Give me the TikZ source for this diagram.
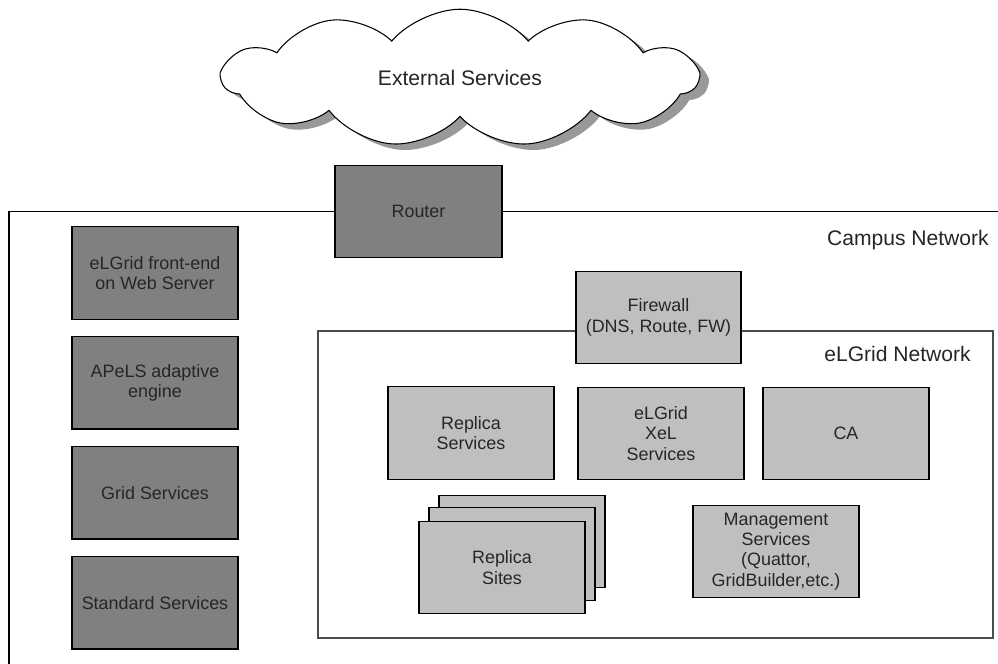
\documentclass[tikz,border=0pt]{standalone}
\usepackage{fontspec}
\setsansfont{Liberation Sans}
\usetikzlibrary{positioning,shapes.symbols,shadows}

\begin{document}
\begin{tikzpicture}[
    node distance=0.32cm,
    box/.style={draw, rectangle, align=center, line width=0.8pt, minimum width=3.32cm, minimum height=1.85cm, inner sep=1pt, text=black!85, font=\sffamily\fontsize{10.2}{11.6}\selectfont},
    darkbox/.style={box, fill=gray},
    lightbox/.style={box, fill=gray!50},
    netlabel/.style={anchor=east, font=\sffamily\fontsize{12}{14}\selectfont, text=black!85}]
    \useasboundingbox (0,0) rectangle (19.96,13.28);

    % Networks
    \draw [line width=1pt] (0.18,-0.1) -- (0.18,9.05) -- (20.1,9.05);
    \draw [line width=0.6pt, black!70] (6.36,0.52) rectangle (19.86,6.66);
    \node (campuslbl) [netlabel] at (19.9,8.48) {Campus Network};
    \node (elgridlbl) [netlabel] at (19.54,6.2) {eLGrid Network};

    % Nodes
    \node (cloud) [cloud, cloud puffs=11, cloud puff arc=100, aspect=3.4, draw, fill=white, line width=0.6pt, minimum width=9.5cm, minimum height=2.75cm, drop shadow={shadow xshift=0.18cm, shadow yshift=-0.12cm, fill=black!50, opacity=0.8}, font=\sffamily\fontsize{12}{14}\selectfont, text=black!85] at (9.2,11.72) {External Services};
    \node (router) [darkbox, minimum width=3.34cm] at (8.37,9.05) {Router};

    \node (frontend) [darkbox] at (3.10,7.82) {eLGrid front-end\\on Web Server};
    \node (apels) [darkbox, below=of frontend] {APeLS adaptive\\engine};
    \node (grid) [darkbox, below=of apels] {Grid Services};
    \node (standard) [darkbox, below=of grid] {Standard Services};

    \node (firewall) [lightbox, minimum width=3.3cm] at (13.17,6.93) {Firewall\\(DNS, Route, FW)};
    \node (replsvc) [lightbox] at (9.42,4.62) {Replica\\Services};
    \node (xel) [lightbox] at (13.22,4.61) {eLGrid\\XeL\\Services};
    \node (ca) [lightbox] at (16.92,4.61) {CA};

    \node (sitesback) [lightbox] at (10.44,2.45) {};
    \node (sitesmid) [lightbox] at ([shift={(-0.2,-0.25)}]sitesback) {};
    \node (sites) [lightbox] at ([shift={(-0.2,-0.27)}]sitesmid) {Replica\\Sites};
    \node (mgmt) [lightbox] at (15.52,2.25) {Management\\Services\\(Quattor,\\GridBuilder,etc.)};
\end{tikzpicture}
\end{document}
